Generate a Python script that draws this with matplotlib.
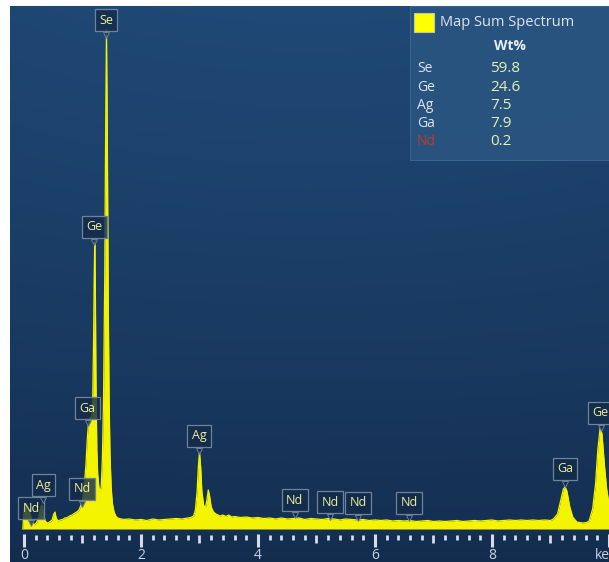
import matplotlib.pyplot as plt
import matplotlib.patches as mpatches
import numpy as np

# EDS spectrum, energy (keV) vs counts
energy_kev = [
    -0.02, 0.00, 0.02, 0.05, 0.08, 0.11, 0.14, 0.18, 0.22, 0.26, 0.29, 0.31,
    0.33, 0.36, 0.40, 0.44, 0.48, 0.51, 0.53, 0.55, 0.58, 0.62, 0.66, 0.70,
    0.74, 0.78, 0.82, 0.86, 0.90, 0.94, 0.97, 1.00, 1.03, 1.06, 1.08, 1.10,
    1.12, 1.14, 1.16, 1.175, 1.19, 1.20, 1.21, 1.22, 1.23, 1.245, 1.26, 1.28,
    1.30, 1.32, 1.34, 1.36, 1.38, 1.395, 1.41, 1.425, 1.44, 1.455, 1.47, 1.49,
    1.51, 1.54, 1.57, 1.60, 1.70, 1.80, 1.90, 2.00, 2.10, 2.20, 2.30, 2.40,
    2.50, 2.60, 2.70, 2.80, 2.85, 2.90, 2.93, 2.96, 2.98, 3.00, 3.02, 3.04,
    3.07, 3.10, 3.13, 3.15, 3.17, 3.20, 3.24, 3.28, 3.30, 3.35, 3.40, 3.45,
    3.50, 3.55, 3.60, 3.70, 3.80, 3.90, 4.00, 4.10, 4.20, 4.30, 4.40, 4.50,
    4.60, 4.70, 4.80, 4.90, 5.00, 5.10, 5.20, 5.30, 5.40, 5.50, 5.60, 5.70,
    5.80, 5.90, 6.00, 6.10, 6.20, 6.30, 6.40, 6.50, 6.60, 6.70, 6.80, 6.90,
    7.00, 7.10, 7.20, 7.30, 7.40, 7.50, 7.60, 7.70, 7.80, 7.90, 8.00, 8.10,
    8.20, 8.30, 8.40, 8.50, 8.60, 8.70, 8.80, 8.90, 9.00, 9.05, 9.12, 9.18,
    9.22, 9.25, 9.28, 9.33, 9.38, 9.45, 9.55, 9.62, 9.66, 9.72, 9.77, 9.81,
    9.85, 9.88, 9.92, 9.96, 10.00, 10.05,
]
counts = [
    0, 180, 260, 240, 200, 140, 70, 40, 70, 140, 220, 240,
    170, 80, 60, 70, 90, 150, 170, 110, 80, 90, 95, 110,
    115, 130, 140, 155, 170, 190, 230, 290, 420, 650, 880, 1040,
    1100, 1120, 1110, 1300, 1900, 2500, 2890, 2400, 1500, 800, 550, 420,
    370, 420, 700, 1300, 2500, 3900, 4990, 3900, 2300, 1300, 750, 420,
    260, 170, 130, 110, 95, 100, 90, 95, 85, 100, 90, 95,
    100, 105, 100, 110, 115, 130, 190, 380, 620, 770, 620, 380,
    240, 210, 300, 390, 340, 220, 170, 150, 145, 130, 140, 125,
    140, 120, 125, 115, 120, 110, 115, 105, 110, 100, 110, 100,
    105, 110, 95, 105, 100, 95, 105, 100, 90, 100, 95, 90,
    95, 85, 90, 85, 90, 80, 85, 80, 85, 75, 80, 85,
    75, 80, 75, 80, 85, 75, 80, 85, 80, 85, 90, 80,
    85, 90, 85, 90, 85, 90, 85, 90, 85, 100, 150, 300,
    400, 420, 380, 220, 120, 70, 60, 65, 80, 200, 450, 800,
    1020, 950, 650, 400, 250, 150,
]

# peak markers: element, line energy (keV), marker height (counts)
marker_names = ["Se", "Ge", "Ga", "Ag", "Nd", "Nd", "Ag", "Nd", "Nd", "Nd", "Nd", "Ga", "Ge"]
marker_kev = [1.40, 1.20, 1.09, 0.33, 0.12, 0.99, 2.99, 4.63, 5.23, 5.71, 6.58, 9.25, 9.86]
marker_y = [5090, 3020, 1210, 440, 210, 400, 930, 290, 270, 260, 260, 600, 1160]

# quantification table
quant_elements = ["Se", "Ge", "Ag", "Ga", "Nd"]
quant_wt = ["59.8", "24.6", "7.5", "7.9", "0.2"]

W, H = 609, 562
fig = plt.figure(figsize=(W / 100, H / 100), dpi=100)
fig.patch.set_facecolor("white")
ax = fig.add_axes([10 / W, 0, 599 / W, 556 / H])
ax.set_xlim(-0.239, 10.0)
ax.set_ylim(-330, 5230)
ax.axis("off")

# dark blue gradient background
gy = np.linspace(0, 1, 256)[:, None]
gx = np.linspace(-1, 1, 256)[None, :]
top = np.array([0.125, 0.285, 0.465])
bot = np.array([0.075, 0.175, 0.305])
t = np.clip(gy ** 0.8 - 0.08 * gx ** 2 * gy, 0, 1)
grad = bot + (top - bot) * t[..., None]
ax.imshow(grad, extent=[0, 1, 0, 1], transform=ax.transAxes, origin="lower",
          aspect="auto", zorder=0)

# spectrum
ax.fill_between(energy_kev, counts, 0, color="#f4f400", lw=0, zorder=2)
ax.plot(energy_kev, counts, color="#f4f400", lw=0.9, zorder=2)

# energy axis ticks
tick_col = "#d5dde6"
minor = np.round(np.arange(0, 10.01, 0.2), 2)
for x in minor:
    if abs(x - round(x)) < 1e-6 and int(round(x)) % 2 == 0:
        y0, y1, lw = -50, -180, 2.2
    elif abs(x - round(x)) < 1e-6:
        y0, y1, lw = -60, -135, 2.0
    else:
        y0, y1, lw = -60, -110, 2.0
    ax.plot([x, x], [y0, y1], color=tick_col, lw=lw, solid_capstyle="butt", zorder=3)
for k in range(0, 10, 2):
    ax.text(k, -262, str(k), color="#c9d3de", fontsize=10, ha="center", va="center",
            family="Open Sans")
ax.text(9.95, -262, "keV", color="#c9d3de", fontsize=10, ha="center", va="center",
        family="Open Sans")

# peak marker boxes
box_fc = (0.08, 0.17, 0.29, 0.8)
box_ec = "#6d829c"
for name, kx, ky in zip(marker_names, marker_kev, marker_y):
    ax.text(kx, ky, name, color="#eeee9a", fontsize=9, ha="center", va="center",
            family="Open Sans", zorder=5,
            bbox=dict(boxstyle="square,pad=0.35", fc=box_fc, ec=box_ec, lw=0.9))
    ax.plot(kx, ky - 150, marker="v", ms=4.5, mfc=box_fc, mec=box_ec, mew=0.7, zorder=6)

# quantification panel in the top right corner
panel = mpatches.Rectangle((410 / W, 1 - 160 / H), 199 / W, 154 / H,
                           transform=fig.transFigure, fc="#2a5480", ec="#3b6690",
                           lw=0.8, alpha=0.95, zorder=1)
fig.patches.append(panel)
swatch = mpatches.Rectangle((414 / W, 1 - 32 / H), 20 / W, 19 / H,
                            transform=fig.transFigure, fc="#ffff00", ec="#c8c8a0",
                            lw=0.8, zorder=2)
fig.patches.append(swatch)
fig.text(440 / W, 1 - 23 / H, "Map Sum Spectrum", color="#dde4ec", fontsize=10.5,
         va="center", family="Open Sans")
fig.text(510 / W, 1 - 46 / H, "Wt%", color="#e8eef4", fontsize=10, fontweight="bold",
         ha="center", va="center", family="Open Sans")
for i, (el, wt) in enumerate(zip(quant_elements, quant_wt)):
    yy = 1 - (69 + i * 18.2) / H
    fig.text(417 / W, yy, el, color="#c0392b" if el == "Nd" else "#dde4ec",
             fontsize=10, va="center", family="Open Sans")
    fig.text(490 / W, yy, wt, color="#e4f2b4", fontsize=11, va="center",
             family="Open Sans")

fig.savefig("out.png", dpi=100, facecolor=fig.get_facecolor())
